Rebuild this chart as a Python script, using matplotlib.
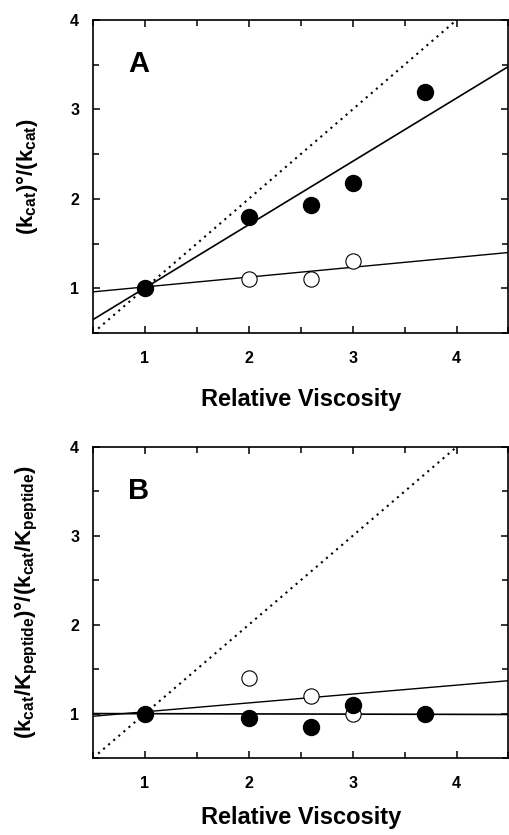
import numpy as np
from matplotlib import pyplot as plt
from matplotlib.ticker import MultipleLocator

plt.rcParams['font.family'] = 'Liberation Sans'
plt.rcParams['font.weight'] = 'bold'
plt.rcParams['mathtext.fontset'] = 'custom'
plt.rcParams['mathtext.rm'] = 'Liberation Sans:bold'
plt.rcParams['mathtext.it'] = 'Liberation Sans:bold'
plt.rcParams['mathtext.bf'] = 'Liberation Sans:bold'

# panel A data
visc_filled_a = [1.0, 2.0, 2.6, 3.0, 3.7]
kcat_filled_a = [1.0, 1.8, 1.93, 2.18, 3.2]
visc_open_a = [2.0, 2.6, 3.0]
kcat_open_a = [1.1, 1.1, 1.3]
fit_x = [0.5, 4.5]
fit_filled_a = [0.65, 3.48]
fit_open_a = [0.96, 1.40]

# panel B data
visc_filled_b = [1.0, 2.0, 2.6, 3.0, 3.7]
kk_filled_b = [1.0, 0.95, 0.85, 1.1, 1.0]
visc_open_b = [2.0, 2.6, 3.0]
kk_open_b = [1.4, 1.2, 1.0]
fit_filled_b = [1.0, 0.99]
fit_open_b = [0.97, 1.37]

# theoretical slope-1 line
diag_x = [0.55, 4.0]
diag_y = [0.55, 4.0]

fig = plt.figure(figsize=(5.09, 8.35), dpi=100)
ax_a = fig.add_axes([0.1827, 0.6012, 0.8163, 0.3749])
ax_b = fig.add_axes([0.1827, 0.0922, 0.8163, 0.3725])

def draw_panel(ax, vf, yf, vo, yo, fit_f, fit_o, letter, ylabel, xpad):
    ax.plot(diag_x, diag_y, color='black', lw=1.5, linestyle=(0, (1, 2.2)))
    ax.plot(fit_x, fit_f, color='black', lw=1.2)
    ax.plot(fit_x, fit_o, color='black', lw=1.0)
    ax.plot(vo, yo, 'o', ms=11, mfc='white', mec='black', mew=0.8, zorder=4)
    ax.plot(vf, yf, 'o', ms=11.5, mfc='black', mec='black', zorder=5)
    ax.set_xlim(0.5, 4.5)
    ax.set_ylim(0.5, 4.0)
    ax.xaxis.set_minor_locator(MultipleLocator(0.5))
    ax.yaxis.set_minor_locator(MultipleLocator(0.5))
    ax.set_xticks([1, 2, 3, 4])
    ax.set_yticks([1, 2, 3, 4])
    ax.tick_params(which='both', direction='in', top=True, right=True, width=1.1)
    ax.tick_params(which='major', length=5, labelsize=11.5)
    ax.tick_params(which='minor', length=4)
    ax.tick_params(axis='x', pad=13)
    ax.tick_params(axis='y', pad=10)
    for s in ax.spines.values():
        s.set_linewidth(1.2)
    ax.text(0.837, 3.51, letter, fontsize=21, fontweight='bold', va='center', ha='left')
    ax.set_xlabel('Relative Viscosity', fontsize=17, fontweight='bold', labelpad=xpad)
    ax.set_ylabel(ylabel, fontsize=16, fontweight='bold', va='center')
    ax.yaxis.set_label_coords(-0.159, 0.5)

draw_panel(ax_a, visc_filled_a, kcat_filled_a, visc_open_a, kcat_open_a,
           fit_filled_a, fit_open_a, 'A', r'(k$_{\rm cat}$)°/(k$_{\rm cat}$)', 16)
draw_panel(ax_b, visc_filled_b, kk_filled_b, visc_open_b, kk_open_b,
           fit_filled_b, fit_open_b, 'B',
           r'(k$_{\rm cat}$/K$_{\rm peptide}$)°/(k$_{\rm cat}$/K$_{\rm peptide}$)', 11)

plt.savefig('out.png', dpi=100)
